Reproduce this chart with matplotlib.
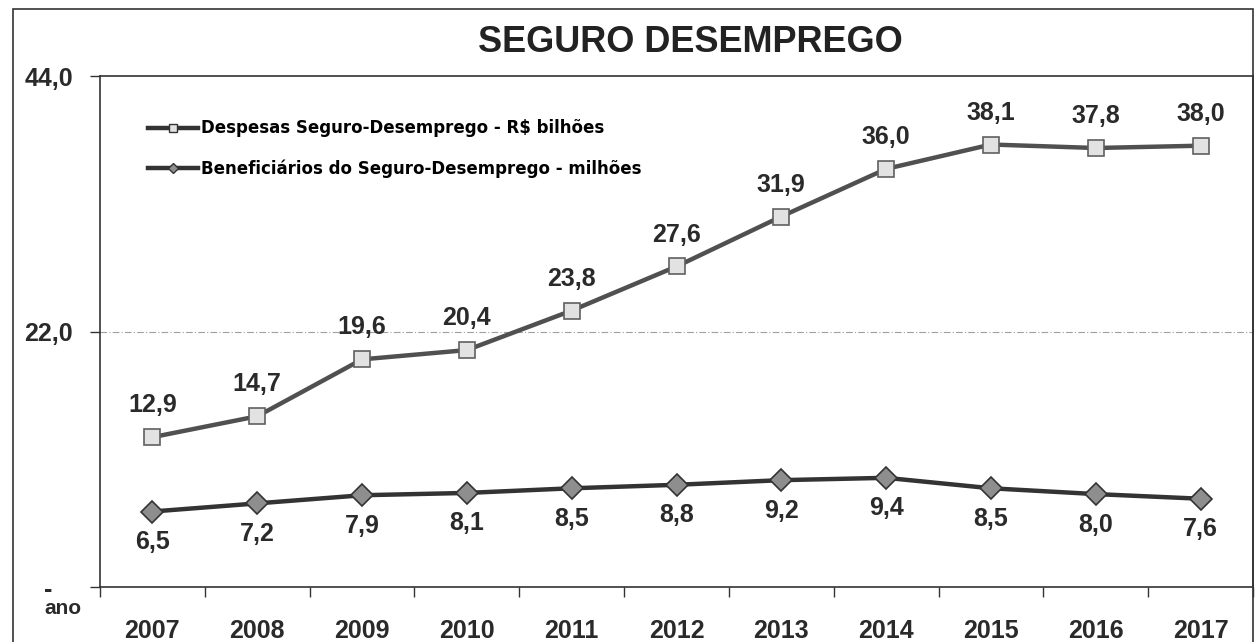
import matplotlib.pyplot as plt
from matplotlib.lines import Line2D
from matplotlib.patches import Rectangle

anos = ['2007', '2008', '2009', '2010', '2011', '2012', '2013', '2014', '2015', '2016', '2017']
despesas = [12.9, 14.7, 19.6, 20.4, 23.8, 27.6, 31.9, 36.0, 38.1, 37.8, 38.0]
beneficiarios = [6.5, 7.2, 7.9, 8.1, 8.5, 8.8, 9.2, 9.4, 8.5, 8.0, 7.6]
y_ticks = [0, 22, 44]
y_labels = ['-', '22,0', '44,0']

plt.rcParams['font.family'] = ['Liberation Sans', 'DejaVu Sans']

W, H = 1258, 642
fig = plt.figure(figsize=(W / 100, H / 100), dpi=100)
ax = fig.add_axes([100 / W, 1 - 587 / H, 1153 / W, 511 / H])

x = list(range(len(anos)))

ax.plot(x, despesas, color='#505050', lw=3.2, marker='s', markersize=12,
        markerfacecolor='#e2e2e2', markeredgecolor='#606060', markeredgewidth=1.2,
        zorder=3)
ax.plot(x, beneficiarios, color='#333333', lw=3.2, marker='D', markersize=11,
        markerfacecolor='#8e8e8e', markeredgecolor='#333333', markeredgewidth=1.2,
        zorder=3)

def fmt(v):
    return f'{v:.1f}'.replace('.', ',')

for xi, v in zip(x, despesas):
    ax.annotate(fmt(v), (xi, v), xytext=(0, 23), textcoords='offset points',
                ha='center', va='center', fontsize=18, fontweight='bold', color='#2a2a2a')
for xi, v in zip(x, beneficiarios):
    ax.annotate(fmt(v), (xi, v), xytext=(0, -22), textcoords='offset points',
                ha='center', va='center', fontsize=18, fontweight='bold', color='#2a2a2a')

ax.set_xlim(-0.5, len(anos) - 0.5)
ax.set_ylim(0, 44)

# category ticks between years, labels centred on years
ax.set_xticks([i - 0.5 for i in range(len(anos) + 1)])
ax.set_xticklabels([])
ax.set_xticks(x, minor=True)
ax.set_xticklabels(anos, minor=True, fontsize=18, fontweight='bold', color='#2a2a2a')
ax.tick_params(axis='x', which='major', length=7, width=1, color='#333333', direction='out')
ax.tick_params(axis='x', which='minor', length=0, pad=23)

ax.set_yticks(y_ticks)
ax.set_yticklabels(y_labels, fontsize=18, fontweight='bold', color='#2a2a2a')
ax.tick_params(axis='y', length=7, width=1, color='#333333', pad=30)
for lbl in ax.get_yticklabels():
    lbl.set_horizontalalignment('center')

ax.axhline(22, color='#a0a0a0', lw=0.8, ls=(0, (6, 2, 1, 2)), zorder=1)

for s in ['left', 'bottom', 'top', 'right']:
    ax.spines[s].set_color('#333333')
    ax.spines[s].set_linewidth(1.2)

handles = [
    Line2D([], [], color='#333333', lw=3.2, marker='s', markersize=6,
           markerfacecolor='#e2e2e2', markeredgecolor='#333333'),
    Line2D([], [], color='#333333', lw=3.2, marker='D', markersize=5,
           markerfacecolor='#8e8e8e', markeredgecolor='#333333'),
]
ax.legend(handles, ['Despesas Seguro-Desemprego - R$ bilhões',
                    'Beneficiários do Seguro-Desemprego - milhões'],
          loc='upper left', bbox_to_anchor=(0.036, 0.928), frameon=False,
          prop={'family': 'DejaVu Sans', 'size': 12, 'weight': 'bold'},
          handlelength=3.0, handletextpad=0.15, labelspacing=1.3, borderaxespad=0)

fig.text(690 / W, 1 - 42 / H, 'SEGURO DESEMPREGO', ha='center', va='center',
         fontsize=26, fontweight='bold', color='#222222')
fig.text(63 / W, 1 - 609 / H, 'ano', ha='center', va='center',
         fontsize=15, fontweight='bold', color='#2a2a2a')

fig.patches.append(Rectangle((13 / W, -0.02), 1240 / W, 1.02 - 9 / H,
                             transform=fig.transFigure, fill=False,
                             edgecolor='#333333', lw=1.2))

fig.savefig('out.png', dpi=100)
